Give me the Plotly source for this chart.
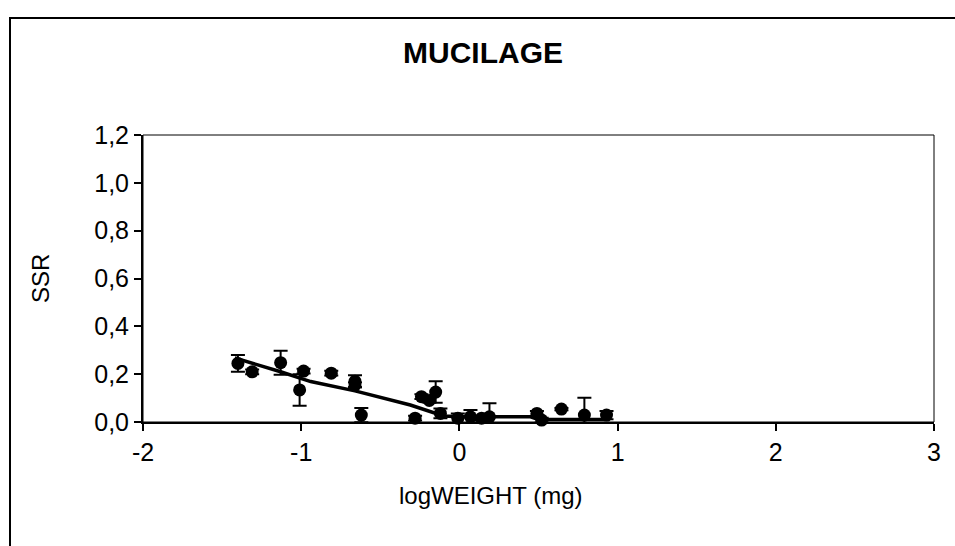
import plotly.graph_objects as go

# Data
log_weight = [-1.40, -1.31, -1.13, -1.01, -0.985, -0.81, -0.66, -0.66, -0.62, -0.28, -0.24, -0.19,
              -0.15, -0.12, -0.01, 0.07, 0.14, 0.19, 0.49, 0.52, 0.645, 0.79, 0.93]
ssr = [0.245, 0.21, 0.248, 0.134, 0.213, 0.204, 0.17, 0.155, 0.029, 0.016, 0.106, 0.09,
       0.125, 0.036, 0.016, 0.022, 0.016, 0.022, 0.036, 0.008, 0.054, 0.029, 0.029]
ssr_err = [0.035, 0.01, 0.05, 0.066, 0.01, 0.01, 0.025, 0.01, 0.03, 0.01, 0.01, 0.01,
           0.045, 0.02, 0.02, 0.028, 0.01, 0.056, 0.01, 0.01, 0.005, 0.072, 0.017]

trend_x = [-1.42, -1.30, -1.13, -0.94, -0.66, -0.31, -0.19, -0.10, 0.0, 0.45, 0.50, 0.95]
trend_y = [0.268, 0.245, 0.21, 0.169, 0.13, 0.071, 0.043, 0.025, 0.022, 0.022, 0.01, 0.01]

y_ticks = [0, 0.2, 0.4, 0.6, 0.8, 1.0, 1.2]
y_tick_text = ["0,0", "0,2", "0,4", "0,6", "0,8", "1,0", "1,2"]
x_ticks = [-2, -1, 0, 1, 2, 3]

FONT = "Liberation Sans, Arial, sans-serif"
TICK_SIZE = 25

fig = go.Figure()
fig.add_trace(go.Scatter(
    x=log_weight, y=ssr, mode="markers",
    marker=dict(color="black", size=13, symbol="circle"),
    error_y=dict(type="data", array=ssr_err, visible=True, color="black", thickness=2, width=7),
    showlegend=False, cliponaxis=False,
))
fig.add_trace(go.Scatter(
    x=trend_x, y=trend_y, mode="lines",
    line=dict(color="black", width=3.5),
    showlegend=False,
))

W, H = 955, 546
L, R, T, B = 143, 21, 135, 124
pw, ph = W - L - R, H - T - B

def px(x):
    return (x - L) / pw

def py(y):
    return (H - B - y) / ph

fig.update_layout(
    width=W, height=H,
    margin=dict(l=L, r=R, t=T, b=B),
    paper_bgcolor="white", plot_bgcolor="white",
    font=dict(family=FONT, color="black", size=TICK_SIZE),
    xaxis=dict(range=[-2, 3], tickvals=x_ticks, ticktext=[str(v) for v in x_ticks],
               showgrid=False, zeroline=False, showline=True, linecolor="black", linewidth=2,
               ticks="outside", ticklen=7, tickwidth=2, tickcolor="black",
               tickfont=dict(size=TICK_SIZE, family=FONT)),
    yaxis=dict(range=[0, 1.2], tickvals=y_ticks, ticktext=y_tick_text,
               showgrid=False, zeroline=False, showline=True, linecolor="black", linewidth=2,
               ticks="outside", ticklen=7, tickwidth=2, tickcolor="black",
               tickfont=dict(size=TICK_SIZE, family=FONT)),
    shapes=[
        dict(type="rect", xref="paper", yref="paper", x0=0, x1=1, y0=0, y1=1,
             line=dict(color="black", width=1)),
        dict(type="rect", xref="paper", yref="paper", x0=px(10), x1=px(965), y0=py(560), y1=py(18),
             line=dict(color="black", width=2)),
    ],
    annotations=[
        dict(text="<b>MUCILAGE</b>", xref="paper", yref="paper", x=px(483), y=py(53),
             showarrow=False, font=dict(size=30, family=FONT), xanchor="center", yanchor="middle"),
        dict(text="logWEIGHT (mg)", xref="paper", yref="paper", x=px(491), y=py(495),
             showarrow=False, font=dict(size=24, family=FONT), xanchor="center", yanchor="middle"),
        dict(text="SSR", xref="paper", yref="paper", x=px(40), y=py(279), textangle=-90,
             showarrow=False, font=dict(size=24, family=FONT), xanchor="center", yanchor="middle"),
    ],
)

fig.write_html("out.html")
